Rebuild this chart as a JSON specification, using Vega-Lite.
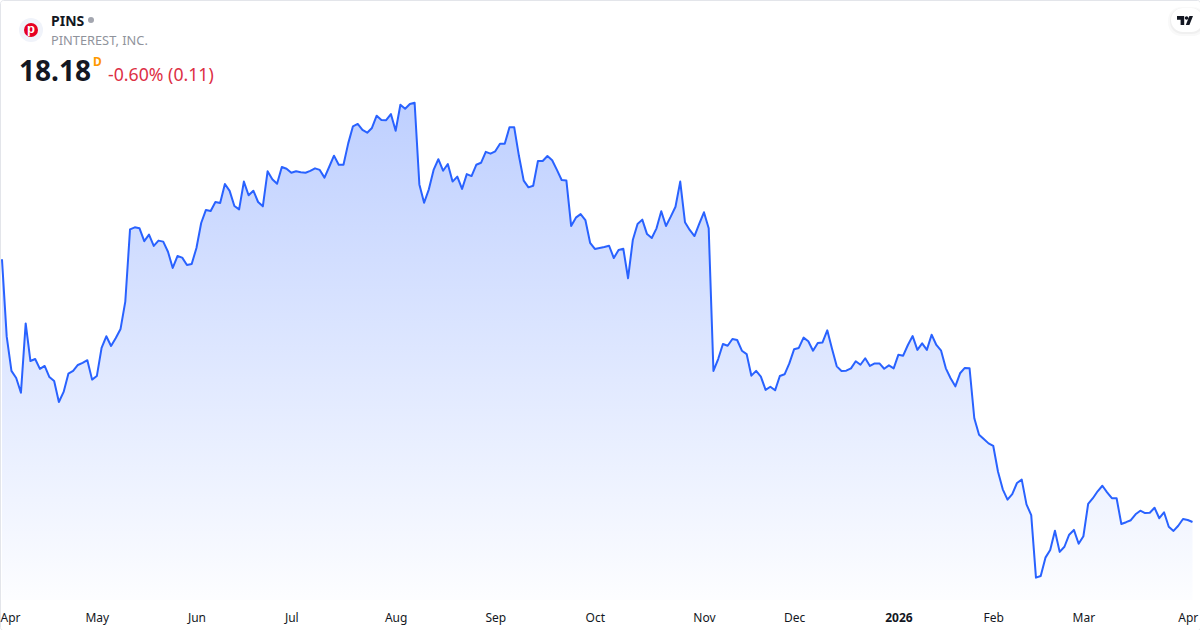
{"$schema":"https://vega.github.io/schema/vega-lite/v6.json","width":1200,"height":630,"padding":0,"autosize":{"type":"none"},"background":"#ffffff","view":{"stroke":"#e3e5ea","strokeWidth":1,"cornerRadius":3,"fill":null},"datasets":{"price":[
{"d":"2025-04-02","c":31.45},{"d":"2025-04-03","c":27.54},{"d":"2025-04-04","c":25.81},{"d":"2025-04-07","c":25.45},{"d":"2025-04-08","c":24.71},{"d":"2025-04-09","c":28.21},{"d":"2025-04-10","c":26.31},{"d":"2025-04-11","c":26.41},{"d":"2025-04-14","c":25.91},{"d":"2025-04-15","c":26.06},{"d":"2025-04-16","c":25.50},{"d":"2025-04-17","c":25.30},{"d":"2025-04-21","c":24.24},{"d":"2025-04-22","c":24.75},{"d":"2025-04-23","c":25.67},{"d":"2025-04-24","c":25.81},{"d":"2025-04-25","c":26.11},{"d":"2025-04-28","c":26.22},{"d":"2025-04-29","c":26.35},{"d":"2025-04-30","c":25.37},
{"d":"2025-05-01","c":25.55},{"d":"2025-05-02","c":26.97},{"d":"2025-05-05","c":27.56},{"d":"2025-05-06","c":27.07},{"d":"2025-05-07","c":27.47},{"d":"2025-05-08","c":27.93},{"d":"2025-05-09","c":29.31},{"d":"2025-05-12","c":32.96},{"d":"2025-05-13","c":33.06},{"d":"2025-05-14","c":33.01},{"d":"2025-05-15","c":32.36},{"d":"2025-05-16","c":32.69},{"d":"2025-05-19","c":32.12},{"d":"2025-05-20","c":32.39},{"d":"2025-05-21","c":32.34},{"d":"2025-05-22","c":31.83},{"d":"2025-05-23","c":31.01},{"d":"2025-05-27","c":31.61},{"d":"2025-05-28","c":31.53},{"d":"2025-05-29","c":31.16},{"d":"2025-05-30","c":31.21},
{"d":"2025-06-02","c":32.02},{"d":"2025-06-03","c":33.28},{"d":"2025-06-04","c":33.94},{"d":"2025-06-05","c":33.89},{"d":"2025-06-06","c":34.34},{"d":"2025-06-09","c":34.29},{"d":"2025-06-10","c":35.25},{"d":"2025-06-11","c":34.90},{"d":"2025-06-12","c":34.14},{"d":"2025-06-13","c":33.97},{"d":"2025-06-16","c":35.37},{"d":"2025-06-17","c":34.68},{"d":"2025-06-18","c":34.91},{"d":"2025-06-20","c":34.34},{"d":"2025-06-23","c":34.12},{"d":"2025-06-24","c":35.89},{"d":"2025-06-25","c":35.49},{"d":"2025-06-26","c":35.26},{"d":"2025-06-27","c":36.11},{"d":"2025-06-30","c":36.02},
{"d":"2025-07-01","c":35.82},{"d":"2025-07-02","c":35.89},{"d":"2025-07-03","c":35.84},{"d":"2025-07-07","c":35.82},{"d":"2025-07-08","c":35.91},{"d":"2025-07-09","c":36.04},{"d":"2025-07-10","c":35.96},{"d":"2025-07-11","c":35.57},{"d":"2025-07-14","c":36.12},{"d":"2025-07-15","c":36.68},{"d":"2025-07-16","c":36.22},{"d":"2025-07-17","c":36.22},{"d":"2025-07-18","c":37.30},{"d":"2025-07-21","c":38.16},{"d":"2025-07-22","c":38.28},{"d":"2025-07-23","c":37.98},{"d":"2025-07-24","c":37.84},{"d":"2025-07-25","c":38.08},{"d":"2025-07-28","c":38.70},{"d":"2025-07-29","c":38.48},{"d":"2025-07-30","c":38.47},{"d":"2025-07-31","c":38.78},
{"d":"2025-08-01","c":37.94},{"d":"2025-08-04","c":39.25},{"d":"2025-08-05","c":39.05},{"d":"2025-08-06","c":39.29},{"d":"2025-08-07","c":39.35},{"d":"2025-08-08","c":35.23},{"d":"2025-08-11","c":34.30},{"d":"2025-08-12","c":34.98},{"d":"2025-08-13","c":35.96},{"d":"2025-08-14","c":36.50},{"d":"2025-08-15","c":35.92},{"d":"2025-08-18","c":36.26},{"d":"2025-08-19","c":35.37},{"d":"2025-08-20","c":35.62},{"d":"2025-08-21","c":35.00},{"d":"2025-08-22","c":35.75},{"d":"2025-08-25","c":35.65},{"d":"2025-08-26","c":36.22},{"d":"2025-08-27","c":36.32},{"d":"2025-08-28","c":36.87},{"d":"2025-08-29","c":36.78},
{"d":"2025-09-02","c":36.90},{"d":"2025-09-03","c":37.28},{"d":"2025-09-04","c":37.28},{"d":"2025-09-05","c":38.11},{"d":"2025-09-08","c":38.11},{"d":"2025-09-09","c":36.66},{"d":"2025-09-10","c":35.42},{"d":"2025-09-11","c":35.08},{"d":"2025-09-12","c":35.16},{"d":"2025-09-15","c":36.41},{"d":"2025-09-16","c":36.41},{"d":"2025-09-17","c":36.66},{"d":"2025-09-18","c":36.45},{"d":"2025-09-19","c":35.96},{"d":"2025-09-22","c":35.45},{"d":"2025-09-23","c":35.42},{"d":"2025-09-24","c":33.13},{"d":"2025-09-25","c":33.55},{"d":"2025-09-26","c":33.73},{"d":"2025-09-29","c":33.43},{"d":"2025-09-30","c":32.28},
{"d":"2025-10-01","c":31.97},{"d":"2025-10-02","c":32.02},{"d":"2025-10-03","c":32.07},{"d":"2025-10-06","c":32.13},{"d":"2025-10-07","c":31.51},{"d":"2025-10-08","c":31.92},{"d":"2025-10-09","c":31.98},{"d":"2025-10-10","c":30.49},{"d":"2025-10-13","c":32.42},{"d":"2025-10-14","c":33.23},{"d":"2025-10-15","c":33.45},{"d":"2025-10-16","c":32.72},{"d":"2025-10-17","c":32.52},{"d":"2025-10-20","c":33.01},{"d":"2025-10-21","c":33.87},{"d":"2025-10-22","c":33.13},{"d":"2025-10-23","c":33.60},{"d":"2025-10-24","c":34.10},{"d":"2025-10-27","c":35.37},{"d":"2025-10-28","c":33.32},{"d":"2025-10-29","c":32.93},{"d":"2025-10-30","c":32.62},{"d":"2025-10-31","c":33.23},
{"d":"2025-11-03","c":33.82},{"d":"2025-11-04","c":33.01},{"d":"2025-11-05","c":25.81},{"d":"2025-11-06","c":26.41},{"d":"2025-11-07","c":27.17},{"d":"2025-11-10","c":27.08},{"d":"2025-11-11","c":27.42},{"d":"2025-11-12","c":27.37},{"d":"2025-11-13","c":26.83},{"d":"2025-11-14","c":26.66},{"d":"2025-11-17","c":25.57},{"d":"2025-11-18","c":25.81},{"d":"2025-11-19","c":25.52},{"d":"2025-11-20","c":24.85},{"d":"2025-11-21","c":25.01},{"d":"2025-11-24","c":24.83},{"d":"2025-11-25","c":25.55},{"d":"2025-11-26","c":25.64},{"d":"2025-11-28","c":26.19},
{"d":"2025-12-01","c":26.90},{"d":"2025-12-02","c":26.97},{"d":"2025-12-03","c":27.49},{"d":"2025-12-04","c":27.31},{"d":"2025-12-05","c":26.83},{"d":"2025-12-08","c":27.22},{"d":"2025-12-09","c":27.25},{"d":"2025-12-10","c":27.86},{"d":"2025-12-11","c":26.93},{"d":"2025-12-12","c":26.04},{"d":"2025-12-15","c":25.81},{"d":"2025-12-16","c":25.82},{"d":"2025-12-17","c":25.94},{"d":"2025-12-18","c":26.30},{"d":"2025-12-19","c":26.12},{"d":"2025-12-22","c":26.45},{"d":"2025-12-23","c":26.06},{"d":"2025-12-24","c":26.19},{"d":"2025-12-26","c":26.19},{"d":"2025-12-29","c":25.92},{"d":"2025-12-30","c":26.09},{"d":"2025-12-31","c":25.94},
{"d":"2026-01-02","c":26.63},{"d":"2026-01-05","c":26.58},{"d":"2026-01-06","c":27.12},{"d":"2026-01-07","c":27.57},{"d":"2026-01-08","c":26.87},{"d":"2026-01-09","c":27.20},{"d":"2026-01-12","c":26.87},{"d":"2026-01-13","c":27.64},{"d":"2026-01-14","c":27.12},{"d":"2026-01-15","c":26.83},{"d":"2026-01-16","c":25.94},{"d":"2026-01-20","c":25.44},{"d":"2026-01-21","c":25.03},{"d":"2026-01-22","c":25.69},{"d":"2026-01-23","c":25.96},{"d":"2026-01-26","c":25.94},{"d":"2026-01-27","c":23.42},{"d":"2026-01-28","c":22.59},{"d":"2026-01-29","c":22.37},{"d":"2026-01-30","c":22.15},
{"d":"2026-02-02","c":22.02},{"d":"2026-02-03","c":20.72},{"d":"2026-02-04","c":19.83},{"d":"2026-02-05","c":19.31},{"d":"2026-02-06","c":19.59},{"d":"2026-02-09","c":20.15},{"d":"2026-02-10","c":20.32},{"d":"2026-02-11","c":19.07},{"d":"2026-02-12","c":18.53},{"d":"2026-02-13","c":15.37},{"d":"2026-02-17","c":15.45},{"d":"2026-02-18","c":16.38},{"d":"2026-02-19","c":16.77},{"d":"2026-02-20","c":17.74},{"d":"2026-02-23","c":16.67},{"d":"2026-02-24","c":16.93},{"d":"2026-02-25","c":17.54},{"d":"2026-02-26","c":17.78},{"d":"2026-02-27","c":17.08},
{"d":"2026-03-02","c":17.46},{"d":"2026-03-03","c":19.09},{"d":"2026-03-04","c":19.38},{"d":"2026-03-05","c":19.73},{"d":"2026-03-06","c":20.01},{"d":"2026-03-09","c":19.68},{"d":"2026-03-10","c":19.38},{"d":"2026-03-11","c":19.38},{"d":"2026-03-12","c":18.08},{"d":"2026-03-13","c":18.17},{"d":"2026-03-16","c":18.27},{"d":"2026-03-17","c":18.57},{"d":"2026-03-18","c":18.75},{"d":"2026-03-19","c":18.63},{"d":"2026-03-20","c":18.65},{"d":"2026-03-23","c":18.90},{"d":"2026-03-24","c":18.37},{"d":"2026-03-25","c":18.67},{"d":"2026-03-26","c":17.94},{"d":"2026-03-27","c":17.73},{"d":"2026-03-30","c":17.99},{"d":"2026-03-31","c":18.33},
{"d":"2026-04-01","c":18.28},{"d":"2026-04-02","c":18.18}
]},"layer":[
{"data":{"name":"price"},"mark":{"type":"area","color":{"gradient":"linear","x1":1,"x2":1,"y1":0,"y2":1,"stops":[{"offset":0,"color":"rgba(41,98,255,0.30)"},{"offset":1,"color":"rgba(41,98,255,0.01)"}]}},"encoding":{"x":{"field":"d","type":"ordinal","scale":{"type":"point","padding":1.2677,"align":0.208},"axis":{"title":null,"orient":"bottom","offset":-30,"domain":false,"ticks":false,"grid":false,"labelAngle":0,"labelFont":"Noto Sans","labelFontSize":12,"labelColor":"#131722","labelPadding":12,"labelFlush":false,"labelOverlap":false,"labelBound":false,"values":["2025-04-02","2025-05-01","2025-06-02","2025-07-01","2025-08-01","2025-09-02","2025-10-01","2025-11-03","2025-12-01","2026-01-02","2026-02-02","2026-03-02","2026-04-01"],"labelExpr":"datum.value=='2026-01-02'?'2026':timeFormat(toDate(datum.value+'T12:00:00'),'%b')","labelFontWeight":{"condition":{"test":"datum.value=='2026-01-02'","value":"bold"},"value":"normal"},"labelOffset":{"condition":{"test":"datum.value=='2025-04-02'","value":8},"value":0}}},"y":{"field":"c","type":"quantitative","scale":{"domain":[12.726,44.541],"nice":false,"zero":false},"axis":null},"y2":{"datum":14.241}}},
{"data":{"name":"price"},"mark":{"type":"line","color":"#2962ff","strokeWidth":2,"strokeJoin":"round"},"encoding":{"x":{"field":"d","type":"ordinal"},"y":{"field":"c","type":"quantitative"}}},
{"data":{"values":[{"n":"badge"}]},"mark":{"type":"point","shape":"circle","filled":true,"opacity":1,"x":31,"y":30,"size":576,"color":"#f0f3fa"}},
{"data":{"values":[{"n":"logo"}]},"mark":{"type":"point","shape":"circle","filled":true,"opacity":1,"x":31,"y":30,"size":196,"color":"#e60023"}},
{"data":{"values":[{"t":"p"}]},"mark":{"type":"text","x":31,"y":33,"baseline":"alphabetic","font":"Liberation Sans","fontWeight":"bold","fontSize":13,"align":"center","color":"#ffffff"},"encoding":{"text":{"field":"t"}}},
{"data":{"values":[{"t":"PINS"}]},"mark":{"type":"text","x":51,"y":26,"baseline":"alphabetic","font":"Noto Sans","fontWeight":"bold","fontSize":14,"align":"left","color":"#131722"},"encoding":{"text":{"field":"t"}}},
{"data":{"values":[{"n":"status"}]},"mark":{"type":"point","shape":"circle","filled":true,"opacity":1,"x":91,"y":20,"size":36,"color":"#a3a6af"}},
{"data":{"values":[{"t":"PINTEREST, INC."}]},"mark":{"type":"text","x":51,"y":45,"baseline":"alphabetic","font":"Noto Sans","fontSize":12.8,"align":"left","color":"#8f939c"},"encoding":{"text":{"field":"t"}}},
{"data":{"values":[{"t":"18.18"}]},"mark":{"type":"text","x":19,"y":81,"baseline":"alphabetic","font":"Noto Sans","fontWeight":"bold","fontSize":28,"align":"left","color":"#131722"},"encoding":{"text":{"field":"t"}}},
{"data":{"values":[{"t":"D"}]},"mark":{"type":"text","x":93,"y":66,"baseline":"alphabetic","font":"Noto Sans","fontWeight":"bold","fontSize":12,"align":"left","color":"#ff9800"},"encoding":{"text":{"field":"t"}}},
{"data":{"values":[{"t":"-0.60% (0.11)"}]},"mark":{"type":"text","x":108,"y":81,"baseline":"alphabetic","font":"Noto Sans","fontSize":17.7,"align":"left","color":"#dd3045"},"encoding":{"text":{"field":"t"}}},
{"data":{"values":[{"n":"shadow"}]},"mark":{"type":"rect","x":1168,"x2":1206,"y":7,"y2":36,"cornerRadius":13,"color":"#000000","opacity":0.025}},
{"data":{"values":[{"n":"shadow"}]},"mark":{"type":"rect","x":1170,"x2":1204,"y":8,"y2":34,"cornerRadius":12,"color":"#000000","opacity":0.035}},
{"data":{"values":[{"n":"pill"}]},"mark":{"type":"rect","x":1171,"x2":1203,"y":8,"y2":32,"cornerRadius":12,"color":"#ffffff","opacity":1}},
{"data":{"values":[{"n":"tv"}]},"mark":{"type":"point","filled":true,"opacity":1,"x":1185,"y":20.5,"size":256,"color":"#131722","shape":"M-1 -0.56 L-0.1 -0.56 L-0.1 0.56 L-0.55 0.56 L-0.55 -0.1 L-1 -0.1 Z M0.42 -0.32 A0.22 0.22 0 1 1 -0.02 -0.32 A0.22 0.22 0 1 1 0.42 -0.32 Z M0.55 -0.56 L1 -0.56 L0.55 0.56 L0.1 0.56 Z"}}
]}
